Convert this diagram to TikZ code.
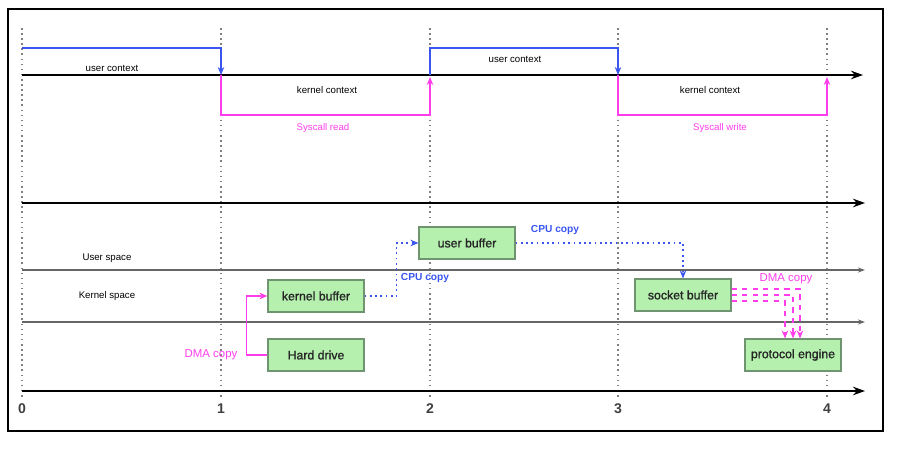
\documentclass[tikz,border=0pt]{standalone}
\usepackage{fontspec}
\setmainfont{Liberation Sans}
\newfontfamily\cajafont{Liberation Sans}[AutoFakeBold=1.3]
\usetikzlibrary{arrows.meta, calc}

\definecolor{azul}{HTML}{3A55F0}
\definecolor{rosa}{HTML}{FF3DEB}
\definecolor{verde}{HTML}{B5F0AE}
\definecolor{borde}{HTML}{6E9470}

\begin{document}
\begin{tikzpicture}[>={Stealth[length=1.6mm, width=1.3mm]}, line width=0.8pt,
  caja/.style={draw=borde, fill=verde, line width=0.6pt, minimum width=1.92cm,
    minimum height=0.64cm, text=black!85, font=\cajafont\fontsize{7}{8}\selectfont\bfseries},
  eje/.style={->, line width=1.4pt, >={Stealth[length=2.4mm, width=1.7mm]}},
  fino/.style={->, gray!80!black, line width=0.8pt, >={Stealth[length=1.4mm, width=1mm]}},
  chico/.style={font=\fontsize{5.5}{6}\selectfont},
  cpu/.style={azul, dotted, line width=1pt},
  dma/.style={rosa, line width=0.8pt}]
  \useasboundingbox (0,0) rectangle (18.02,8.98);
  \draw[line width=0.8pt] (0.16,0.36) rectangle (17.66,8.80);
  % instantes 0..4 (líneas punteadas)
  \foreach \x/\n in {0.44/0, 4.42/1, 8.60/2, 12.36/3, 16.54/4} {
    \coordinate (T\n) at (\x,7.48);
    \draw[gray, dotted, line width=0.9pt] (\x,8.42) -- (\x,1.0);
    \node[font=\fontsize{8}{9}\selectfont\bfseries, text=black!75] (n\n) at (\x,0.80) {\n};
  }
  % ejes
  \draw[eje] (T0) -- (17.26,7.48);
  \draw[eje] (0.44,4.92) -- (17.30,4.92);
  \draw[fino] (0.44,3.58) -- (17.30,3.58);
  \draw[fino] (0.44,2.54) -- (17.30,2.54);
  \draw[eje] (0.44,1.16) -- (17.30,1.16);
  % contextos usuario / kernel
  \draw[azul, ->] (0.44,8.02) -| (T1);
  \draw[azul, ->] (T2) |- (10.40,8.02) -| (T3);
  \draw[rosa, ->] (T1) |- (6.5,6.68) -| ($(T2)+(0,-0.04)$);
  \draw[rosa, ->] (T3) |- (14.4,6.68) -| ($(T4)+(0,-0.04)$);
  \node[chico] (uc1) at (2.24,7.62) {user context};
  \node[chico] (uc2) at (10.30,7.80) {user context};
  \node[chico] (kc1) at (6.54,7.18) {kernel context};
  \node[chico] (kc2) at (14.20,7.18) {kernel context};
  \node[chico, text=rosa] (sr) at (6.46,6.42) {Syscall read};
  \node[chico, text=rosa] (sw) at (14.40,6.42) {Syscall write};
  % espacios
  \node[chico] (us) at (2.14,3.82) {User space};
  \node[chico] (ks) at (2.14,3.06) {Kernel space};
  % buffers
  \node[caja] (kbuf) at (6.32,3.06) {kernel buffer};
  \node[caja] (disco) at (6.32,1.88) {Hard drive};
  \node[caja] (ubuf) at (9.34,4.12) {user buffer};
  \node[caja] (sbuf) at (13.66,3.08) {socket buffer};
  \node[caja] (proto) at (15.86,1.88) {protocol engine};
  % copias
  \draw[dma, ->] (disco.west) -- ++(-0.42,0) |- (kbuf.west);
  \node[font=\fontsize{6.5}{7}\selectfont, text=rosa] (dma1) at (4.22,1.88) {DMA copy};
  \draw[cpu, ->] (kbuf.east) -- ++(0.64,0) |- (ubuf.west);
  \node[chico, text=azul, font=\fontsize{5.8}{7}\selectfont\bfseries] (cpu1) at (8.50,3.42) {CPU copy};
  \draw[cpu, ->] (ubuf.east) -| (sbuf.north);
  \node[chico, text=azul, font=\fontsize{5.8}{7}\selectfont\bfseries] (cpu2) at (11.10,4.38) {CPU copy};
  \draw[dma, dashed, ->] ($(sbuf.east)+(0,0.12)$) -| ($(proto.north)+(0.14,0)$);
  \draw[dma, dashed, ->] (sbuf.east) -| (proto.north);
  \draw[dma, dashed, ->] ($(sbuf.east)+(0,-0.12)$) -| ($(proto.north)+(-0.16,0)$);
  \node[font=\fontsize{6.5}{7}\selectfont, text=rosa] (dma2) at (15.72,3.40) {DMA copy};
\end{tikzpicture}
\end{document}
